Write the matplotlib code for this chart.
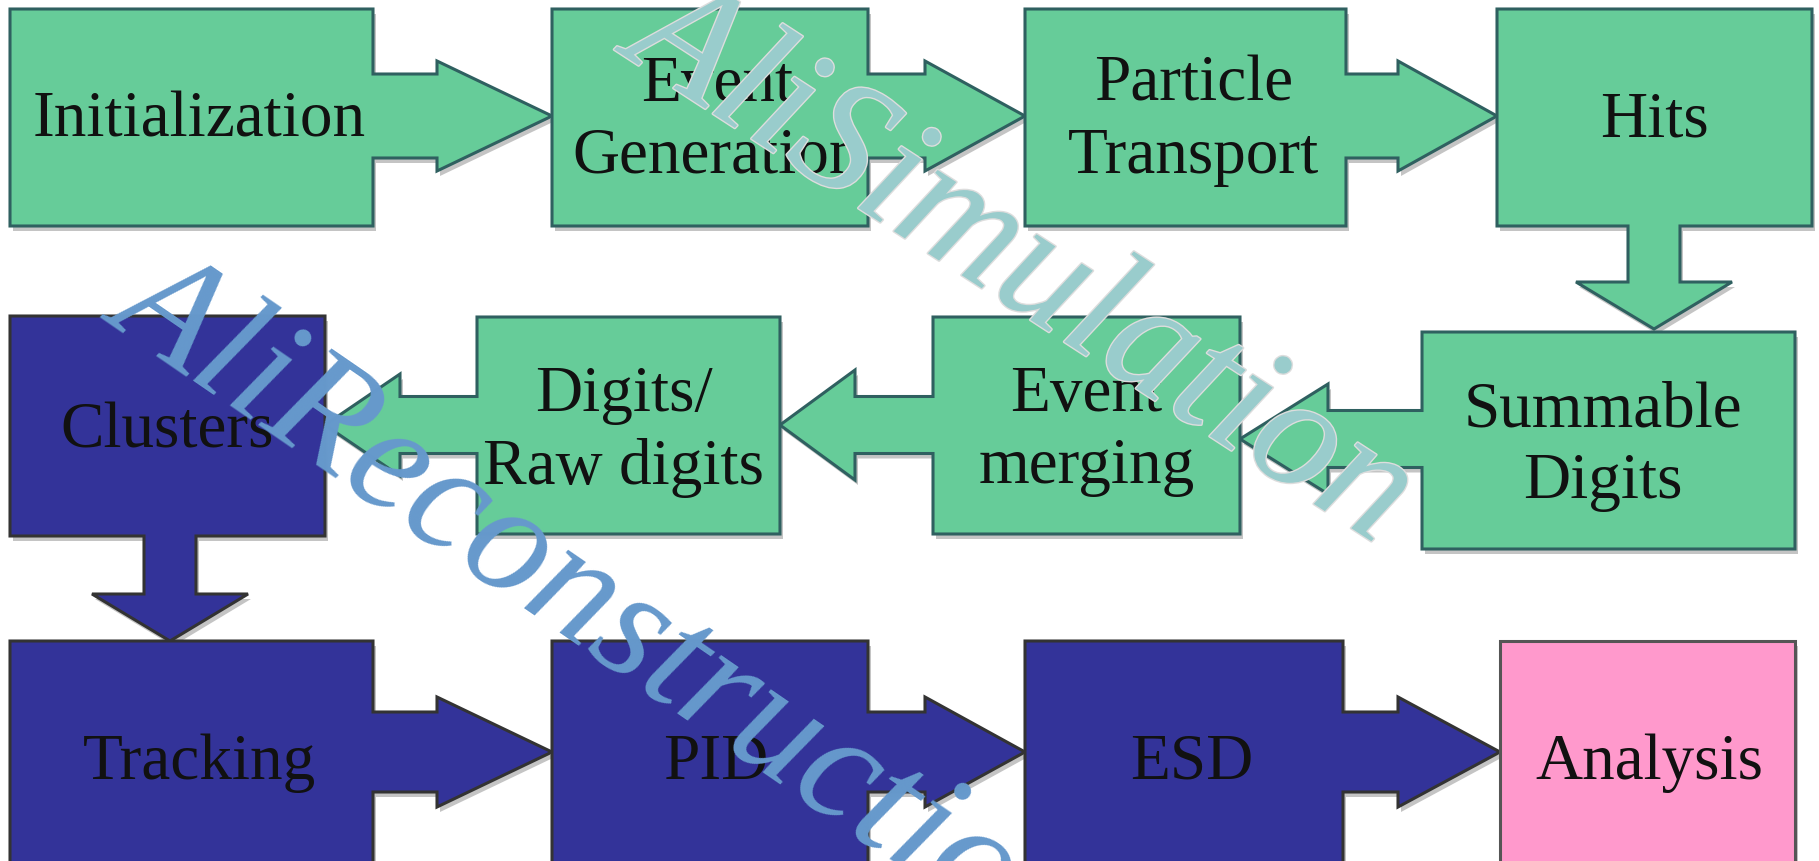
import matplotlib
matplotlib.use("Agg")
import matplotlib.pyplot as plt
from matplotlib.patches import Polygon
import matplotlib.patheffects as pe

# ---------------- data ----------------
row1_labels = ["Initialization", "Event\nGeneration", "Particle\nTransport", "Hits"]
row2_labels = ["Clusters", "Digits/\nRaw digits", "Event\nmerging", "Summable\nDigits"]
row3_labels = ["Tracking", "PID", "ESD", "Analysis"]
row1_stage = ["sim", "sim", "sim", "sim"]
row2_stage = ["rec", "sim", "sim", "sim"]
row3_stage = ["rec", "rec", "rec", "ana"]
watermark_sim = "AliSimulation"
watermark_rec = "AliReconstruction"

# ---------------- styles ----------------
FACE = {"sim": "#66CC99", "rec": "#333399", "ana": "#FF99CC"}
EDGE = {"sim": "#2F6060", "rec": "#333333", "ana": "#555555"}
SHADOW = "#C4C4C4"

W, H = 1819, 862
fig = plt.figure(figsize=(W / 100, H / 100), dpi=100)
ax = fig.add_axes([0, 0, 1, 1])
ax.set_xlim(0, W)
ax.set_ylim(H, 0)
ax.axis("off")

# ---------------- layout (pixel geometry) ----------------
row1_x = [(10, 373), (552, 868), (1025, 1346), (1497, 1812)]
row1_y = (10, 227)
row3_x = [(10, 373), (552, 868), (1025, 1343), (1500, 1795)]
row3_y = (642, 875)
row2_box = [(10, 325, 317, 537), (477, 780, 318, 535), (933, 1240, 318, 535), (1422, 1795, 333, 550)]
row1_dx = [8, 7, 8, 0]
row2_dx = [0, -5, 0, -6]
row3_dx = [8, 6, 8, 2]


def right_arrow_box(x0, x1, y0, y1, cy, sh, hh, hb, tip):
    return [(x0, y0), (x1, y0), (x1, cy - sh), (hb, cy - sh), (hb, cy - hh), (tip, cy),
            (hb, cy + hh), (hb, cy + sh), (x1, cy + sh), (x1, y1), (x0, y1)]


def left_arrow_box(x0, x1, y0, y1, cy, sh, hh, hb, tip):
    return [(x0, y0), (x1, y0), (x1, y1), (x0, y1), (x0, cy + sh), (hb, cy + sh),
            (hb, cy + hh), (tip, cy), (hb, cy - hh), (hb, cy - sh), (x0, cy - sh)]


def down_arrow_box(x0, x1, y0, y1, cx, sw, hw, hb, tip):
    return [(x0, y0), (x1, y0), (x1, y1), (cx + sw, y1), (cx + sw, hb), (cx + hw, hb),
            (cx, tip), (cx - hw, hb), (cx - sw, hb), (cx - sw, y1), (x0, y1)]


def rect(x0, x1, y0, y1):
    return [(x0, y0), (x1, y0), (x1, y1), (x0, y1)]


def draw(pts, stage, z):
    sh = [(x + 3, y + 5) for x, y in pts]
    ax.add_patch(Polygon(sh, closed=True, facecolor=SHADOW, edgecolor="none", zorder=1))
    ax.add_patch(Polygon(pts, closed=True, facecolor=FACE[stage], edgecolor=EDGE[stage],
                         linewidth=2.2, joinstyle="miter", zorder=z))


def label(x, y, s, z):
    ax.text(x, y, s, ha="center", va="center", fontsize=47, family="Liberation Serif",
            color="#111111", linespacing=1.28, zorder=z)


# Row 1 (left to right)
hb_off = [64, 57, 52]
for i in range(4):
    x0, x1 = row1_x[i]
    y0, y1 = row1_y
    if i < 3:
        pts = right_arrow_box(x0, x1, y0, y1, 117, 42, 55, x1 + hb_off[i], row1_x[i + 1][0])
    else:
        pts = down_arrow_box(x0, x1, y0, y1, 1654, 26, 78, 283, 330)
    draw(pts, row1_stage[i], 2 + i)
    label((x0 + x1) / 2 + row1_dx[i], 121, row1_labels[i], 2 + i)

# Row 2 (right to left)
row2_arrow = {1: (426, 28.5, 51, 400), 2: (426, 28.5, 55, 855), 3: (440, 28.5, 55, 1328)}
for i in [3, 2, 1, 0]:
    x0, x1, y0, y1 = row2_box[i]
    if i > 0:
        cy, sh, hh, hb = row2_arrow[i]
        pts = left_arrow_box(x0, x1, y0, y1, cy, sh, hh, hb, row2_box[i - 1][1])
    else:
        pts = down_arrow_box(x0, x1, y0, y1, 170, 26, 78, 595, 642)
    z = 10 + (3 - i)
    draw(pts, row2_stage[i], z)
    label((x0 + x1) / 2 + row2_dx[i], (y0 + y1) / 2 + 5, row2_labels[i], z)

# Row 3 (left to right)
hb3 = [64, 57, 55]
for i in range(4):
    x0, x1 = row3_x[i]
    y0, y1 = row3_y
    if i < 3:
        pts = right_arrow_box(x0, x1, y0, y1, 753, 40, 55, x1 + hb3[i], row3_x[i + 1][0])
    else:
        pts = rect(x0, x1, y0, y1)
    draw(pts, row3_stage[i], 20 + i)
    label((x0 + x1) / 2 + row3_dx[i], 763, row3_labels[i], 20 + i)

# Watermarks
ax.text(1021, 268, watermark_sim, rotation=-33, rotation_mode="anchor", ha="center", va="center",
        fontsize=118, family="Liberation Serif", style="italic", color="#99CCCC", zorder=40,
        path_effects=[pe.withStroke(linewidth=2, foreground="#DDDDDD")])
ax.text(108, 316, watermark_rec, rotation=-34.5, rotation_mode="anchor", ha="left", va="baseline",
        fontsize=114, family="Liberation Serif", style="italic", color="#6699CC", zorder=41)

fig.savefig("out.png", dpi=100)
